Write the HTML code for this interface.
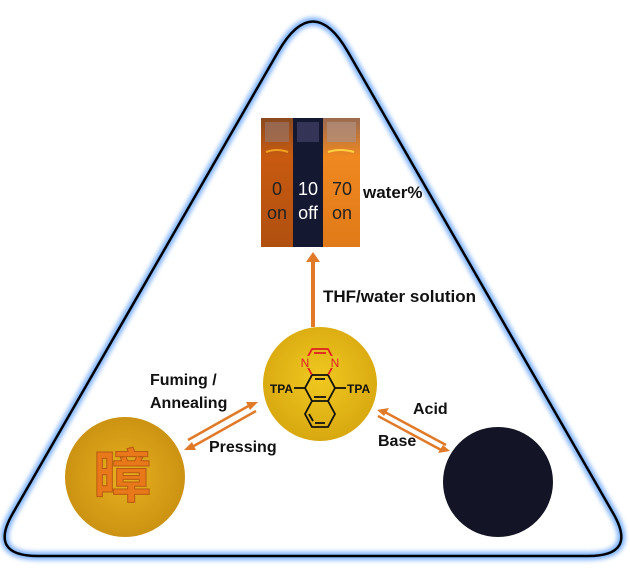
<!DOCTYPE html>
<html><head><style>
body{margin:0;width:630px;height:581px;background:#fff;overflow:hidden;position:relative;font-family:"Liberation Sans",sans-serif}
.t{position:absolute;font-weight:bold;font-size:15px;color:#111;white-space:nowrap}
</style></head><body>
<svg width="630" height="581" style="position:absolute;left:0;top:0">
<defs>
<filter id="g" x="-10%" y="-10%" width="120%" height="120%"><feGaussianBlur stdDeviation="2.5"/></filter>
<radialGradient id="yel" cx="50%" cy="45%" r="55%"><stop offset="0" stop-color="#f0c820"/><stop offset="1" stop-color="#d8a810"/></radialGradient>
<radialGradient id="gold" cx="50%" cy="50%" r="55%"><stop offset="0" stop-color="#e8b020"/><stop offset="1" stop-color="#c89010"/></radialGradient>
<linearGradient id="or1" x1="0" y1="0" x2="0" y2="1"><stop offset="0" stop-color="#8a4a20"/><stop offset=".3" stop-color="#c85a10"/><stop offset="1" stop-color="#b05010"/></linearGradient>
<linearGradient id="or3" x1="0" y1="0" x2="0" y2="1"><stop offset="0" stop-color="#9a6a50"/><stop offset=".3" stop-color="#f08820"/><stop offset="1" stop-color="#e07a18"/></linearGradient>
</defs>
<path d="M278,52 Q313,-9 348,52 L613,513 Q638,556 588,556 L38,556 Q-12,556 13,513 Z" fill="none" stroke="#7ab0ff" stroke-width="8" filter="url(#g)"/>
<path d="M278,52 Q313,-9 348,52 L613,513 Q638,556 588,556 L38,556 Q-12,556 13,513 Z" fill="none" stroke="#000" stroke-width="2.5"/>
<!-- vials -->
<rect x="261" y="118" width="32" height="129" fill="url(#or1)"/>
<rect x="293" y="118" width="30" height="129" fill="#141830"/>
<rect x="323" y="118" width="37" height="129" fill="url(#or3)"/>
<rect x="265" y="122" width="24" height="20" fill="#9a7a70" opacity=".6"/>
<rect x="297" y="122" width="22" height="20" fill="#4a4a70" opacity=".6"/>
<rect x="327" y="122" width="29" height="20" fill="#b09080" opacity=".7"/>
<path d="M266,152 Q277,148 288,152" stroke="#f0a020" stroke-width="2" fill="none"/>
<path d="M328,152 Q340,148 354,152" stroke="#ffd040" stroke-width="2" fill="none"/>
<text x="277" y="195" font-size="18" fill="#222" text-anchor="middle" font-family="Liberation Sans">0</text>
<text x="277" y="219" font-size="18" fill="#222" text-anchor="middle" font-family="Liberation Sans">on</text>
<text x="308" y="195" font-size="18" fill="#fff" text-anchor="middle" font-family="Liberation Sans">10</text>
<text x="308" y="219" font-size="18" fill="#fff" text-anchor="middle" font-family="Liberation Sans">off</text>
<text x="342" y="195" font-size="18" fill="#222" text-anchor="middle" font-family="Liberation Sans">70</text>
<text x="342" y="219" font-size="18" fill="#222" text-anchor="middle" font-family="Liberation Sans">on</text>
<!-- vertical arrow -->
<line x1="313" y1="258" x2="313" y2="327" stroke="#e07a28" stroke-width="4"/>
<polygon points="306,262 313,252 320,262" fill="#e07a28"/>
<!-- circles -->
<circle cx="320" cy="384" r="57" fill="url(#yel)"/>
<circle cx="125" cy="477" r="60" fill="url(#gold)"/>
<text x="122" y="497" font-size="58" fill="#e8781a" stroke="#b85a10" stroke-width="1" text-anchor="middle" font-family="Noto Sans CJK SC, sans-serif" font-weight="bold">暲</text>
<circle cx="498" cy="482" r="55" fill="#131425"/>
<!-- molecule: flat-top hexagons, s=15 -->
<g fill="none" stroke-width="1.8">
<polyline points="312,375 305,362 312,349 328,349 335,362 328,375" stroke="#e02020"/>
<line x1="312" y1="375" x2="328" y2="375" stroke="#111"/>
<polyline points="312,375 305,388 312,401 328,401 335,388 328,375" stroke="#111"/>
<line x1="315" y1="379" x2="325" y2="379" stroke="#111"/>
<polyline points="312,401 305,414 312,427 328,427 335,414 328,401" stroke="#111"/>
<line x1="314" y1="397" x2="326" y2="397" stroke="#111"/>
<line x1="309" y1="414" x2="313" y2="421" stroke="#111"/>
<line x1="315" y1="423" x2="325" y2="423" stroke="#111"/>
<line x1="305" y1="388" x2="294" y2="388" stroke="#111"/>
<line x1="335" y1="388" x2="346" y2="388" stroke="#111"/>
<line x1="314" y1="353" x2="326" y2="353" stroke="#e02020"/>
</g>
<rect x="300" y="356" width="10" height="12" fill="#e8c020"/>
<rect x="330" y="356" width="10" height="12" fill="#e8c020"/>
<text x="305" y="367" font-size="12" fill="#e02020" font-family="Liberation Sans" text-anchor="middle">N</text>
<text x="335" y="367" font-size="12" fill="#e02020" font-family="Liberation Sans" text-anchor="middle">N</text>
<text x="293" y="393" font-size="12" font-weight="bold" fill="#111" text-anchor="end" font-family="Liberation Sans">TPA</text>
<text x="347" y="393" font-size="12" font-weight="bold" fill="#111" font-family="Liberation Sans">TPA</text>
<!-- left double arrow -->
<g stroke="#e07a28" stroke-width="2.5">
<line x1="188" y1="440" x2="252" y2="404"/><line x1="192" y1="447" x2="256" y2="411"/>
</g>
<polygon points="258,402 246,402 250,410" fill="#e07a28"/>
<polygon points="184,450 196,450 192,442" fill="#e07a28"/>
<!-- right double arrow -->
<g stroke="#e07a28" stroke-width="2.5">
<line x1="381" y1="410" x2="446" y2="445"/><line x1="378" y1="416" x2="443" y2="451"/>
</g>
<polygon points="377,410 389,408 384,416" fill="#e07a28"/>
<polygon points="450,451 438,453 443,445" fill="#e07a28"/>
</svg>
<div class="t" style="left:363px;top:183px;font-size:17px">water%</div>
<div class="t" style="left:323px;top:287px;font-size:17px">THF/water solution</div>
<div class="t" style="left:150px;top:372px;font-size:16px">Fuming /</div>
<div class="t" style="left:150px;top:395px;font-size:16px">Annealing</div>
<div class="t" style="left:209px;top:439px;font-size:16px">Pressing</div>
<div class="t" style="left:413px;top:401px;font-size:16px">Acid</div>
<div class="t" style="left:378px;top:433px;font-size:16px">Base</div>
</body></html>
